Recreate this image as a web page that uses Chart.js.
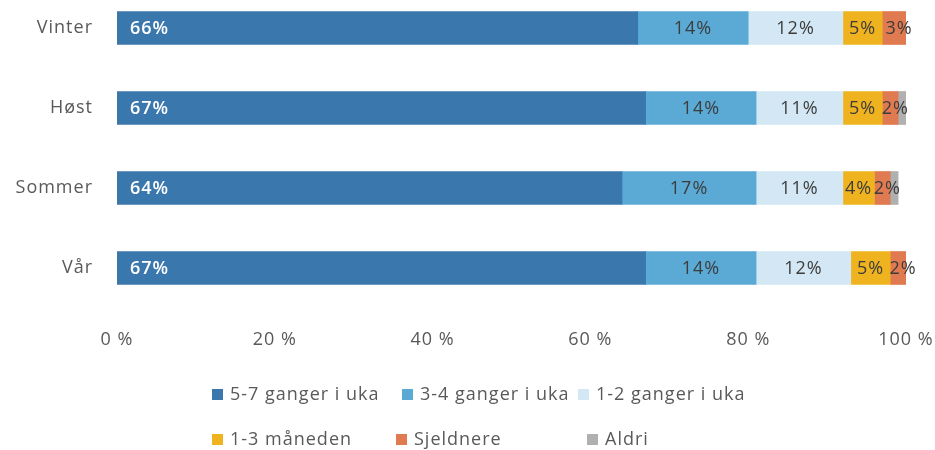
<!DOCTYPE html>
<html>
<head>
<meta charset="utf-8">
<script src="https://cdn.jsdelivr.net/npm/chart.js@4.4.1/dist/chart.umd.min.js"></script>
<style>
  body { margin: 0; background: #fff; }
  #wrap { width: 935px; height: 450px; }
</style>
</head>
<body>
<div id="wrap"><canvas id="myChart" width="935" height="450"></canvas></div>
<script>
var seasons = ['Vinter', 'Høst', 'Sommer', 'Vår'];
var seriesNames = ['5-7 ganger i uka', '3-4 ganger i uka', '1-2 ganger i uka', '1-3 måneden', 'Sjeldnere', 'Aldri'];
var seriesColors = ['#3a77ad', '#5aaad5', '#d3e8f4', '#efb320', '#e07a50', '#b0b0b0'];

// share of answers (%) per season, one list per answer option
var ukaFemSju = [66, 67, 64, 67];
var ukaTreFire = [14, 14, 17, 14];
var ukaEnTo = [12, 11, 11, 12];
var maaneden = [5, 5, 4, 5];
var sjeldnere = [3, 2, 2, 2];
var aldri = [0.5, 1, 1, 0.5];

var xTicks = [0, 20, 40, 60, 80, 100];

var allValues = [ukaFemSju, ukaTreFire, ukaEnTo, maaneden, sjeldnere, aldri];
var textColor = '#595959';
var fontFamily = '"Open Sans", Lato, sans-serif';

var datasets = [];
for (var i = 0; i < seriesNames.length; i++) {
  datasets.push({
    label: seriesNames[i],
    data: allValues[i],
    backgroundColor: seriesColors[i],
    borderWidth: 0,
    barThickness: 33,
    clip: { left: 0, right: 0, top: false, bottom: false }
  });
}

// a bit of tracking on all the text, the labels are spaced out wide
var spacedText = {
  id: 'spacedText',
  beforeDraw: function (chart) {
    chart.ctx.letterSpacing = '1px';
  }
};

// percentage inside each segment; first series sits at the bar start in white
var segmentLabels = {
  id: 'segmentLabels',
  afterDatasetsDraw: function (chart) {
    var ctx = chart.ctx;
    ctx.save();
    ctx.letterSpacing = '1px';
    ctx.textBaseline = 'middle';
    chart.data.datasets.forEach(function (ds, di) {
      if (di === 5) return;
      var meta = chart.getDatasetMeta(di);
      meta.data.forEach(function (bar, j) {
        var txt = ds.data[j] + '%';
        if (di === 0) {
          ctx.font = '600 18px ' + fontFamily;
          ctx.fillStyle = '#ffffff';
          ctx.textAlign = 'left';
          ctx.fillText(txt, bar.base + 13, bar.y + 1);
        } else {
          ctx.font = '18px ' + fontFamily;
          ctx.fillStyle = '#3c3c3c';
          ctx.textAlign = 'center';
          ctx.fillText(txt, (bar.base + bar.x) / 2 + (di === 4 ? 5 : 0), bar.y + 1);
        }
      });
    });
    ctx.restore();
  }
};

// two-row legend laid out in columns under the axis
var legendPos = [[212, 395], [402, 395], [578, 395], [212, 440], [396, 440], [587, 440]];
var rowLegend = {
  id: 'rowLegend',
  afterDraw: function (chart) {
    var ctx = chart.ctx;
    ctx.save();
    ctx.letterSpacing = '1px';
    ctx.font = '18px ' + fontFamily;
    ctx.textBaseline = 'middle';
    ctx.textAlign = 'left';
    chart.data.datasets.forEach(function (ds, di) {
      var p = legendPos[di];
      ctx.fillStyle = ds.backgroundColor;
      ctx.fillRect(p[0], p[1] - 6, 11, 11);
      ctx.fillStyle = textColor;
      ctx.fillText(ds.label, p[0] + 18, p[1]);
    });
    ctx.restore();
  }
};

var ctx = document.getElementById('myChart');
var myChart = new Chart(ctx, {
  type: 'bar',
  data: {
    labels: seasons,
    datasets: datasets
  },
  options: {
    indexAxis: 'y',
    responsive: false,
    animation: false,
    layout: {
      padding: { top: 28, right: 29, left: 0, bottom: 0 }
    },
    plugins: {
      legend: { display: false },
      tooltip: { enabled: false }
    },
    scales: {
      x: {
        stacked: true,
        min: 0,
        max: 100,
        afterBuildTicks: function (scale) {
          scale.ticks = xTicks.map(function (v) { return { value: v }; });
        },
        afterFit: function (scale) {
          scale.height = 182;
          scale.paddingLeft = 0;
          scale.paddingRight = 0;
        },
        grid: { display: false, drawTicks: false },
        border: { display: false },
        ticks: {
          padding: 61,
          color: textColor,
          font: { family: fontFamily, size: 18 },
          callback: function (v) { return v + ' %'; }
        }
      },
      y: {
        stacked: true,
        offset: false,
        afterFit: function (scale) {
          scale.width = 117;
          scale.paddingTop = 0;
          scale.paddingBottom = 0;
        },
        grid: { display: false, drawTicks: false },
        border: { display: false },
        ticks: {
          padding: 24,
          color: textColor,
          font: { family: fontFamily, size: 18 }
        }
      }
    }
  },
  plugins: [spacedText, segmentLabels, rowLegend]
});
</script>
</body>
</html>
